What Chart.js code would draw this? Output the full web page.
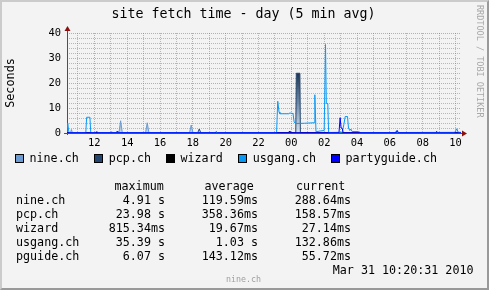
<!DOCTYPE html>
<html>
<head>
<meta charset="utf-8">
<script src="https://cdn.jsdelivr.net/npm/chart.js@4.4.0/dist/chart.umd.min.js"></script>
<style>
html,body{margin:0;padding:0;background:#F3F3F3;}
#frame{position:absolute;left:0;top:0;width:489px;height:290px;box-sizing:border-box;
  border-style:solid;border-width:2px;border-color:#CBCBCB #999999 #999999 #CBCBCB;background:#F3F3F3;overflow:hidden;}
canvas{position:absolute;left:0;top:0;}
.t{position:absolute;font-family:"DejaVu Sans Mono",monospace;white-space:pre;color:#000;}
.sw{position:absolute;width:7px;height:7px;border:1px solid #000;}
</style>
</head>
<body>
<div id="frame"></div>
<canvas id="c" width="489" height="290"></canvas>
<div id="txt"></div>
<script>
// ---- data (time in hours since 00:00 Mar 30; values in seconds) ----
const chartTitle = "site fetch time - day (5 min avg)";
const yAxisTitle = "Seconds";
const hourLabels = ["12","14","16","18","20","22","00","02","04","06","08","10"]; // labels for 12h..34h step 2
const yTickLabels = ["0","10","20","30","40"];
const seriesNames = ["nine.ch","pcp.ch","wizard","usgang.ch","partyguide.ch"];
const seriesColors = ["#6B9BD0","#24466E","#000000","#0A98F5","#0000FF"];

const nineT = [10.33,10.55,10.6,10.66,13.5,13.6,13.7,15.12,15.22,15.32,17.8,17.9,18.0,24.0,30.3,30.41,30.5,34.33];
const nineV = [0.2,0.2,1.4,0.2,0.2,4.9,0.2,0.2,4.1,0.2,0.2,3.2,0.2,0.2,0.2,0.9,0.2,0.29];

const pcpT = [10.33,13.0,13.05,13.1,18.3,18.39,18.48,24.27,24.3,24.52,24.55,34.33];
const pcpV = [0.15,0.15,0.5,0.15,0.15,1.6,0.15,0.15,23.9,23.9,0.15,0.16];

const wizardT = [10.33,13.33,13.38,13.43,23.8,23.9,24.0,32.8,32.85,32.9,34.33];
const wizardV = [0.02,0.02,0.6,0.02,0.02,0.8,0.02,0.02,0.6,0.02,0.03];

const usgangT = [10.33,10.38,10.45,11.48,11.53,11.73,11.78,12.08,12.14,12.2,
  23.1,23.17,23.25,23.3,23.85,23.9,24.1,24.17,24.25,24.8,
  25.38,25.43,25.5,25.75,26.0,26.08,26.13,26.22,26.27,
  27.1,27.2,27.28,27.42,27.48,27.56,27.62,27.7,28.1,28.2,
  33.95,34.08,34.17,34.33];
const usgangV = [0.3,3.9,0.2,0.2,6.3,6.3,0.2,0.2,0.8,0.2,
  0.2,12.7,8.4,7.7,7.7,8.0,7.8,4.4,3.8,3.9,
  4.1,15.3,0.5,0.8,1.0,35.4,11.8,11.8,0.2,
  0.3,3.5,6.6,6.6,2.0,1.0,1.6,0.6,0.6,0.2,
  0.2,1.7,0.2,0.13];

const partyT = [10.33,19.35,19.42,19.5,26.9,26.97,27.03,27.1,27.16,30.38,30.45,30.52,34.33];
const partyV = [0.1,0.1,0.5,0.1,0.1,6.1,2.0,1.8,0.1,0.1,1.0,0.1,0.06];

// statistics table
const statHeaders = ["maximum","average","current"];
const statNames = ["nine.ch","pcp.ch","wizard","usgang.ch","pguide.ch"];
const statMax = ["4.91 s","23.98 s","815.34ms","35.39 s","6.07 s"];
const statAvg = ["119.59ms","358.36ms","19.67ms","1.03 s","143.12ms"];
const statCur = ["288.64ms","158.57ms","27.14ms","132.86ms","55.72ms"];
const timestamp = "Mar 31 10:20:31 2010";
const watermark = "RRDTOOL / TOBI OETIKER";
const footer = "nine.ch";

const xMin = 10 + 20/60, xMax = 34 + 20/60;

// ---- text overlays ----
const txt = document.getElementById('txt');
function addText(s, css){ const d=document.createElement('div'); d.className='t'; d.textContent=s; Object.assign(d.style, css); txt.appendChild(d); return d; }
addText(chartTitle, {left:'0px', width:'487px', textAlign:'center', top:'5px', fontSize:'13.3px', lineHeight:'18px'});
addText(watermark, {left:'475px', top:'5px', fontSize:'8.5px', color:'#A8A8A8', writingMode:'vertical-rl', lineHeight:'10px'});
const swX = [15,94,166,238,331];
const lbX = [29.5,108.8,180.5,252.8,345.5];
seriesNames.forEach((n,i)=>{
  const s=document.createElement('div'); s.className='sw'; s.style.left=swX[i]+'px'; s.style.top='154px'; s.style.background=seriesColors[i]; txt.appendChild(s);
  addText(n,{left:lbX[i]+'px', top:'151px', fontSize:'11.7px', lineHeight:'14px'});
});
const rowY = [186,200,214,228,242,256];
const hdrX = [114.5,204.5,296];
statHeaders.forEach((h,i)=>addText(h,{left:hdrX[i]+'px', top:(rowY[0]-7)+'px', fontSize:'11.7px', lineHeight:'14px'}));
statNames.forEach((n,i)=>{
  const y = rowY[i+1]-7;
  addText(n,{left:'16px', top:y+'px', fontSize:'11.7px', lineHeight:'14px'});
  addText(statMax[i],{right:(489-165)+'px', top:y+'px', fontSize:'11.7px', lineHeight:'14px'});
  addText(statAvg[i],{right:(489-258)+'px', top:y+'px', fontSize:'11.7px', lineHeight:'14px'});
  addText(statCur[i],{right:(489-351)+'px', top:y+'px', fontSize:'11.7px', lineHeight:'14px'});
});
addText(timestamp,{right:(489-473.5)+'px', top:'263px', fontSize:'11.7px', lineHeight:'14px'});
addText(footer,{left:'0px', width:'487px', textAlign:'center', top:'274px', fontSize:'8.3px', color:'#A0A0A0', lineHeight:'10px'});

// ---- chart ----
const pts = (T,V)=>T.map((t,i)=>({x:t,y:V[i]}));
const RED = 'rgba(235,60,60,0.5)', GREY = 'rgba(110,110,110,0.45)';
const hourTicks = []; for(let h=11; h<=34; h++) hourTicks.push(h);

const axesPlugin = {
  id:'rrdAxes',
  beforeDatasetsDraw(chart){
    const {ctx, chartArea:a} = chart;
    ctx.save(); ctx.strokeStyle='#505050'; ctx.lineWidth=1;
    ctx.beginPath(); ctx.moveTo(a.left+0.5, a.bottom+2); ctx.lineTo(a.left+0.5, a.top-4); ctx.stroke();
    ctx.beginPath(); ctx.moveTo(a.left-3, a.bottom+0.5); ctx.lineTo(a.right+2, a.bottom+0.5); ctx.stroke();
    ctx.restore();
  },
  afterDatasetsDraw(chart){
    const {ctx, chartArea:a} = chart;
    ctx.save(); ctx.fillStyle='#8A1010';
    ctx.beginPath(); ctx.moveTo(a.left+0.5, a.top-7); ctx.lineTo(a.left-2.5, a.top-2); ctx.lineTo(a.left+3.5, a.top-2); ctx.closePath(); ctx.fill();
    ctx.beginPath(); ctx.moveTo(a.right+6, a.bottom+0.5); ctx.lineTo(a.right+1, a.bottom-2.5); ctx.lineTo(a.right+1, a.bottom+3.5); ctx.closePath(); ctx.fill();
    ctx.restore();
  }
};

function pcpFill(c){
  const {chart} = c; const a = chart.chartArea; if(!a) return 'rgba(36,70,110,0.7)';
  const g = chart.ctx.createLinearGradient(0, a.top+40, 0, a.bottom);
  g.addColorStop(0,'rgba(30,50,75,1)'); g.addColorStop(0.5,'rgba(95,125,160,0.9)'); g.addColorStop(1,'rgba(200,215,232,0.7)');
  return g;
}
function nineFill(c){
  const {chart} = c; const a = chart.chartArea; if(!a) return 'rgba(107,155,208,0.6)';
  const g = chart.ctx.createLinearGradient(0, a.bottom-14, 0, a.bottom);
  g.addColorStop(0,'rgba(100,145,200,0.85)'); g.addColorStop(1,'rgba(170,200,230,0.6)');
  return g;
}

new Chart(document.getElementById('c'), {
  type:'line',
  data:{ datasets:[
    {label:seriesNames[0], data:pts(nineT,nineV), borderColor:seriesColors[0], backgroundColor:nineFill, fill:'origin', order:4},
    {label:seriesNames[1], data:pts(pcpT,pcpV), borderColor:seriesColors[1], backgroundColor:pcpFill, fill:'origin', order:3},
    {label:seriesNames[2], data:pts(wizardT,wizardV), borderColor:seriesColors[2], fill:false, order:2},
    {label:seriesNames[3], data:pts(usgangT,usgangV), borderColor:seriesColors[3], fill:false, order:1},
    {label:seriesNames[4], data:pts(partyT,partyV), borderColor:seriesColors[4], fill:false, order:0}
  ]},
  options:{
    responsive:false, animation:false, devicePixelRatio:1,
    layout:{padding:{top:33,right:28,left:0,bottom:0}},
    elements:{line:{borderWidth:1,tension:0}, point:{radius:0}},
    plugins:{legend:{display:false}, tooltip:{enabled:false}, title:{display:false}},
    scales:{
      x:{type:'linear', min:xMin, max:xMax,
        afterBuildTicks(s){ s.ticks = hourTicks.map(v=>({value:v})); },
        afterFit(s){ s.height = 157; },
        ticks:{autoSkip:false, maxRotation:0, padding:4, color:'#000',
          font:{family:'DejaVu Sans Mono', size:10.4},
          callback(v){ return (v%2===0) ? hourLabels[(v-12)/2] : ''; }},
        grid:{drawTicks:false, lineWidth:1, color(c){ return (c.tick && c.tick.value%6===0) ? RED : GREY; }},
        border:{display:false, dash:[1,1]}
      },
      y:{type:'linear', min:0, max:40,
        afterFit(s){ s.width = 67; },
        ticks:{autoSkip:false, stepSize:2, padding:6, color:'#000', font:{family:'DejaVu Sans Mono', size:10.4},
          callback(v){ return (v%10===0) ? yTickLabels[v/10] : ''; }},
        grid:{drawTicks:false, lineWidth:1, color(c){ return (c.tick && c.tick.value%10===0) ? RED : GREY; }},
        border:{display:false, dash:[1,1]},
        title:{display:true, text:yAxisTitle, color:'#000', font:{family:'DejaVu Sans Mono', size:11.8}, padding:{top:4,bottom:0}}
      }
    }
  },
  plugins:[axesPlugin]
});
</script>
</body>
</html>
